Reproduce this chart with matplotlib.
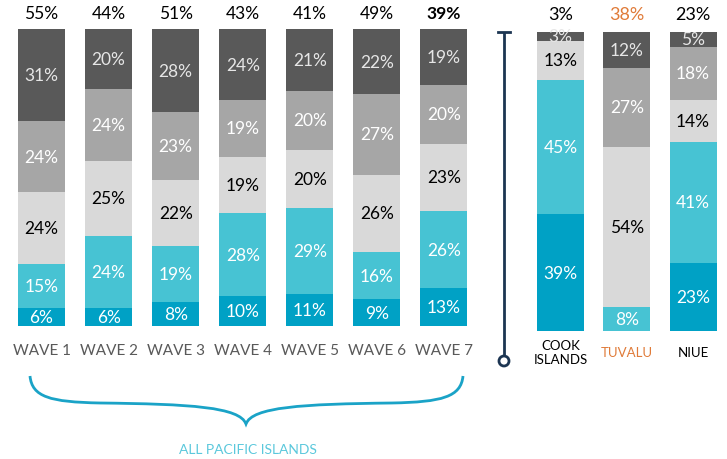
import matplotlib
matplotlib.use("Agg")
import matplotlib.pyplot as plt
import numpy as np
from matplotlib.path import Path
from matplotlib.patches import PathPatch, Circle

plt.rcParams['font.family'] = ['Lato', 'DejaVu Sans']

# ---- data ----
waves = ["WAVE 1", "WAVE 2", "WAVE 3", "WAVE 4", "WAVE 5", "WAVE 6", "WAVE 7"]
wave_s1 = [6, 6, 8, 10, 11, 9, 13]        # dark teal (bottom)
wave_s2 = [15, 24, 19, 28, 29, 16, 26]    # light teal
wave_s3 = [24, 25, 22, 19, 20, 26, 23]    # light gray
wave_s4 = [24, 24, 23, 19, 20, 27, 20]    # medium gray
wave_s5 = [31, 20, 28, 24, 21, 22, 19]    # dark gray (top)
wave_totals = ["55%", "44%", "51%", "43%", "41%", "49%", "39%"]

countries = ["COOK\nISLANDS", "TUVALU", "NIUE"]
c_s1 = [39, 0, 23]
c_s2 = [45, 8, 41]
c_s3 = [13, 54, 14]
c_s4 = [0, 27, 18]
c_s5 = [3, 12, 5]
c_totals = ["3%", "38%", "23%"]

colors = ["#00a1c5", "#47c3d3", "#d9d9d9", "#a6a6a6", "#595959"]
txt_colors = ["white", "white", "black", "white", "#e6e6e6"]
orange = "#e07b39"

W, H = 727, 460
fig = plt.figure(figsize=(W / 100, H / 100), dpi=100)


def px_axes(left, top, right, bottom):
    return fig.add_axes([left / W, 1 - bottom / H, (right - left) / W, (bottom - top) / H])


def draw_stack(ax, series, width):
    n = len(series[0])
    x = np.arange(n)
    tot = np.sum(series, axis=0).astype(float)
    base = np.zeros(n)
    for k, s in enumerate(series):
        h = np.array(s) / tot * 100
        ax.bar(x, h, width, bottom=base, color=colors[k], edgecolor="none")
        for i in range(n):
            if s[i] > 0:
                ax.text(x[i], base[i] + h[i] / 2, f"{s[i]}%", ha="center", va="center",
                        fontsize=12.5, color=txt_colors[k])
        base += h
    ax.set_xlim(-0.5, n - 0.5)
    ax.set_ylim(0, 100)
    ax.axis("off")


axL = px_axes(8, 30, 477.5, 327)
draw_stack(axL, [wave_s1, wave_s2, wave_s3, wave_s4, wave_s5], 0.70)
for i, t in enumerate(wave_totals):
    axL.text(i, 105.5, t, ha="center", va="center", fontsize=12.5, color="black",
             fontweight="bold" if i == len(wave_totals) - 1 else "normal")
    axL.text(i, -8, waves[i], ha="center", va="center", fontsize=11, color="#595959")

axR = px_axes(527.4, 33, 726.2, 332)
draw_stack(axR, [c_s1, c_s2, c_s3, c_s4, c_s5], 0.71)
for i, t in enumerate(c_totals):
    col = orange if countries[i] == "TUVALU" else "black"
    axR.text(i, 106, t, ha="center", va="center", fontsize=13, color=col)
    axR.text(i, -7, countries[i], ha="center", va="center", fontsize=9.5, color=col,
             linespacing=1.2)

# ---- decorations overlay ----
ov = fig.add_axes([0, 0, 1, 1])
ov.set_xlim(0, W)
ov.set_ylim(H, 0)
ov.axis("off")
ov.patch.set_alpha(0)

navy = "#1c3552"
ov.plot([504, 504], [33, 357], color=navy, lw=2, solid_capstyle="butt")
ov.plot([498, 510], [33, 33], color=navy, lw=2)
ov.add_patch(Circle((504, 362), 5, facecolor="white", edgecolor=navy, lw=2, zorder=5))

verts = [(30, 377), (32, 398), (50, 403), (100, 404),
         (190, 405), (240, 408), (246, 425),
         (252, 408), (302, 405), (392, 404),
         (442, 403), (461, 398), (463, 377)]
codes = [Path.MOVETO] + [Path.CURVE4] * 12
ov.add_patch(PathPatch(Path(verts, codes), facecolor="none", edgecolor="#1aa3c7", lw=2))
ov.text(248, 450, "ALL PACIFIC ISLANDS", ha="center", va="center", fontsize=10,
        color="#5bc8dc")

fig.savefig("out.png", dpi=100)
